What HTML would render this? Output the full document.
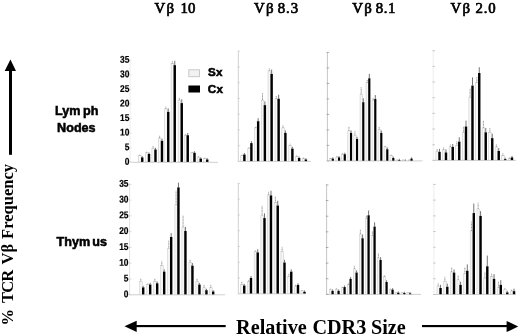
<!DOCTYPE html>
<html><head><meta charset="utf-8"><title>TCR Vb CDR3 size</title>
<style>
html,body{margin:0;padding:0;background:#fff;}
body{width:520px;height:336px;position:relative;overflow:hidden;font-family:"Liberation Sans",sans-serif;}
svg text{fill:#000;}
.tk{font-family:"Liberation Sans",sans-serif;font-weight:bold;font-size:9.8px;stroke:#000;stroke-width:0.2px;}
.lg{font-family:"Liberation Sans",sans-serif;font-weight:bold;font-size:11.6px;letter-spacing:0.5px;stroke:#000;stroke-width:0.55px;}
.rl{font-family:"Liberation Sans",sans-serif;font-weight:bold;font-size:12.6px;stroke:#000;stroke-width:0.55px;}
.tt{font-family:"Liberation Serif",serif;font-weight:normal;font-size:14.8px;stroke:#000;stroke-width:0.7px;}
.yl{font-family:"Liberation Serif",serif;font-weight:bold;font-size:16.5px;}
.xl{font-family:"Liberation Serif",serif;font-weight:bold;font-size:20.2px;}
</style></head><body>
<svg width="520" height="336" viewBox="0 0 520 336" style="position:absolute;left:0;top:0;will-change:transform">
<line x1="130" y1="60.00" x2="130" y2="162.3" stroke="#ececec" stroke-width="1.0"/>
<line x1="130" y1="162.3" x2="218" y2="162.3" stroke="#cacaca" stroke-width="0.9"/>
<line x1="129.2" y1="162.30" x2="131.8" y2="162.30" stroke="#e4e4e4" stroke-width="0.8"/>
<text transform="translate(129.4,164.75) rotate(0.08) scale(0.86,1)" text-anchor="end" class="tk">0</text>
<line x1="129.2" y1="147.73" x2="131.8" y2="147.73" stroke="#e4e4e4" stroke-width="0.8"/>
<text transform="translate(129.4,150.18) rotate(0.08) scale(0.86,1)" text-anchor="end" class="tk">5</text>
<line x1="129.2" y1="133.16" x2="131.8" y2="133.16" stroke="#e4e4e4" stroke-width="0.8"/>
<text transform="translate(129.4,135.61) rotate(0.08) scale(0.86,1)" text-anchor="end" class="tk">10</text>
<line x1="129.2" y1="118.59" x2="131.8" y2="118.59" stroke="#e4e4e4" stroke-width="0.8"/>
<text transform="translate(129.4,121.04) rotate(0.08) scale(0.86,1)" text-anchor="end" class="tk">15</text>
<line x1="129.2" y1="104.01" x2="131.8" y2="104.01" stroke="#e4e4e4" stroke-width="0.8"/>
<text transform="translate(129.4,106.46) rotate(0.08) scale(0.86,1)" text-anchor="end" class="tk">20</text>
<line x1="129.2" y1="89.44" x2="131.8" y2="89.44" stroke="#e4e4e4" stroke-width="0.8"/>
<text transform="translate(129.4,91.89) rotate(0.08) scale(0.86,1)" text-anchor="end" class="tk">25</text>
<line x1="129.2" y1="74.87" x2="131.8" y2="74.87" stroke="#e4e4e4" stroke-width="0.8"/>
<text transform="translate(129.4,77.32) rotate(0.08) scale(0.86,1)" text-anchor="end" class="tk">30</text>
<line x1="129.2" y1="60.30" x2="131.8" y2="60.30" stroke="#e4e4e4" stroke-width="0.8"/>
<text transform="translate(129.4,62.75) rotate(0.08) scale(0.86,1)" text-anchor="end" class="tk">35</text>
<rect x="138.65" y="155.66" width="2.60" height="6.24" fill="#f8f8f8" stroke="#cbcbcb" stroke-width="0.6"/>
<line x1="139.85" y1="155.66" x2="139.85" y2="154.20" stroke="#777" stroke-width="0.8" stroke-dasharray="1,0.5"/>
<rect x="141.05" y="157.41" width="2.40" height="4.49" fill="#000"/>
<line x1="142.25" y1="157.41" x2="142.25" y2="156.06" stroke="#3a3a3a" stroke-width="0.7"/>
<rect x="145.40" y="152.74" width="2.60" height="9.16" fill="#f8f8f8" stroke="#cbcbcb" stroke-width="0.6"/>
<line x1="146.60" y1="152.74" x2="146.60" y2="151.57" stroke="#777" stroke-width="0.8" stroke-dasharray="1,0.5"/>
<rect x="147.80" y="153.91" width="2.40" height="7.99" fill="#000"/>
<line x1="149.00" y1="153.91" x2="149.00" y2="152.40" stroke="#3a3a3a" stroke-width="0.7"/>
<rect x="151.90" y="148.36" width="2.60" height="13.54" fill="#f8f8f8" stroke="#cbcbcb" stroke-width="0.6"/>
<line x1="153.10" y1="148.36" x2="153.10" y2="146.02" stroke="#777" stroke-width="0.8" stroke-dasharray="1,0.5"/>
<rect x="154.30" y="149.53" width="2.40" height="12.37" fill="#000"/>
<line x1="155.50" y1="149.53" x2="155.50" y2="147.82" stroke="#3a3a3a" stroke-width="0.7"/>
<rect x="158.40" y="138.14" width="2.60" height="23.76" fill="#f8f8f8" stroke="#cbcbcb" stroke-width="0.6"/>
<line x1="159.60" y1="138.14" x2="159.60" y2="135.80" stroke="#777" stroke-width="0.8" stroke-dasharray="1,0.5"/>
<rect x="160.80" y="140.77" width="2.40" height="21.13" fill="#000"/>
<line x1="162.00" y1="140.77" x2="162.00" y2="138.67" stroke="#3a3a3a" stroke-width="0.7"/>
<rect x="164.65" y="108.94" width="2.60" height="52.96" fill="#f8f8f8" stroke="#cbcbcb" stroke-width="0.6"/>
<line x1="165.85" y1="108.94" x2="165.85" y2="106.60" stroke="#777" stroke-width="0.8" stroke-dasharray="1,0.5"/>
<rect x="167.05" y="111.86" width="2.40" height="50.04" fill="#000"/>
<line x1="168.25" y1="111.86" x2="168.25" y2="108.46" stroke="#3a3a3a" stroke-width="0.7"/>
<rect x="171.15" y="63.68" width="2.60" height="98.22" fill="#f8f8f8" stroke="#cbcbcb" stroke-width="0.6"/>
<line x1="172.35" y1="63.68" x2="172.35" y2="61.34" stroke="#777" stroke-width="0.8" stroke-dasharray="1,0.5"/>
<rect x="173.55" y="65.14" width="2.40" height="96.76" fill="#000"/>
<line x1="174.75" y1="65.14" x2="174.75" y2="60.76" stroke="#3a3a3a" stroke-width="0.7"/>
<rect x="178.15" y="100.18" width="2.60" height="61.72" fill="#f8f8f8" stroke="#cbcbcb" stroke-width="0.6"/>
<line x1="179.35" y1="100.18" x2="179.35" y2="97.84" stroke="#777" stroke-width="0.8" stroke-dasharray="1,0.5"/>
<rect x="180.55" y="103.10" width="2.40" height="58.80" fill="#000"/>
<line x1="181.75" y1="103.10" x2="181.75" y2="99.30" stroke="#3a3a3a" stroke-width="0.7"/>
<rect x="184.15" y="135.22" width="2.60" height="26.68" fill="#f8f8f8" stroke="#cbcbcb" stroke-width="0.6"/>
<line x1="185.35" y1="135.22" x2="185.35" y2="134.34" stroke="#777" stroke-width="0.8" stroke-dasharray="1,0.5"/>
<rect x="186.55" y="135.22" width="2.40" height="26.68" fill="#000"/>
<line x1="187.75" y1="135.22" x2="187.75" y2="132.87" stroke="#3a3a3a" stroke-width="0.7"/>
<rect x="190.90" y="152.74" width="2.60" height="9.16" fill="#f8f8f8" stroke="#cbcbcb" stroke-width="0.6"/>
<line x1="192.10" y1="152.74" x2="192.10" y2="151.86" stroke="#777" stroke-width="0.8" stroke-dasharray="1,0.5"/>
<rect x="193.30" y="152.74" width="2.40" height="9.16" fill="#000"/>
<line x1="194.50" y1="152.74" x2="194.50" y2="151.18" stroke="#3a3a3a" stroke-width="0.7"/>
<rect x="197.15" y="157.12" width="2.60" height="4.78" fill="#f8f8f8" stroke="#cbcbcb" stroke-width="0.6"/>
<line x1="198.35" y1="157.12" x2="198.35" y2="156.24" stroke="#777" stroke-width="0.8" stroke-dasharray="1,0.5"/>
<rect x="199.55" y="158.58" width="2.40" height="3.32" fill="#000"/>
<line x1="200.75" y1="158.58" x2="200.75" y2="157.28" stroke="#3a3a3a" stroke-width="0.7"/>
<rect x="203.65" y="158.58" width="2.60" height="3.32" fill="#f8f8f8" stroke="#cbcbcb" stroke-width="0.6"/>
<line x1="204.85" y1="158.58" x2="204.85" y2="157.70" stroke="#777" stroke-width="0.8" stroke-dasharray="1,0.5"/>
<rect x="206.05" y="159.46" width="2.40" height="2.44" fill="#000"/>
<line x1="207.25" y1="159.46" x2="207.25" y2="158.20" stroke="#3a3a3a" stroke-width="0.7"/>
<line x1="238.4" y1="50.90" x2="238.4" y2="161.4" stroke="#d9d9d9" stroke-width="1.2"/>
<line x1="238.4" y1="161.4" x2="311" y2="161.4" stroke="#cacaca" stroke-width="0.9"/>
<line x1="237.6" y1="161.40" x2="240.20000000000002" y2="161.40" stroke="#cfcfcf" stroke-width="0.8"/>
<line x1="237.6" y1="145.66" x2="240.20000000000002" y2="145.66" stroke="#cfcfcf" stroke-width="0.8"/>
<line x1="237.6" y1="129.91" x2="240.20000000000002" y2="129.91" stroke="#cfcfcf" stroke-width="0.8"/>
<line x1="237.6" y1="114.17" x2="240.20000000000002" y2="114.17" stroke="#cfcfcf" stroke-width="0.8"/>
<line x1="237.6" y1="98.43" x2="240.20000000000002" y2="98.43" stroke="#cfcfcf" stroke-width="0.8"/>
<line x1="237.6" y1="82.69" x2="240.20000000000002" y2="82.69" stroke="#cfcfcf" stroke-width="0.8"/>
<line x1="237.6" y1="66.94" x2="240.20000000000002" y2="66.94" stroke="#cfcfcf" stroke-width="0.8"/>
<line x1="237.6" y1="51.20" x2="240.20000000000002" y2="51.20" stroke="#cfcfcf" stroke-width="0.8"/>
<rect x="240.80" y="155.66" width="2.60" height="5.44" fill="#f8f8f8" stroke="#cbcbcb" stroke-width="0.6"/>
<line x1="242.00" y1="155.66" x2="242.00" y2="154.78" stroke="#777" stroke-width="0.8" stroke-dasharray="1,0.5"/>
<rect x="243.20" y="154.49" width="2.40" height="6.61" fill="#000"/>
<line x1="244.40" y1="154.49" x2="244.40" y2="153.01" stroke="#3a3a3a" stroke-width="0.7"/>
<rect x="247.80" y="148.36" width="2.60" height="12.74" fill="#f8f8f8" stroke="#cbcbcb" stroke-width="0.6"/>
<line x1="249.00" y1="148.36" x2="249.00" y2="146.90" stroke="#777" stroke-width="0.8" stroke-dasharray="1,0.5"/>
<rect x="250.20" y="143.10" width="2.40" height="18.00" fill="#000"/>
<line x1="251.40" y1="143.10" x2="251.40" y2="141.11" stroke="#3a3a3a" stroke-width="0.7"/>
<rect x="254.55" y="127.92" width="2.60" height="33.18" fill="#f8f8f8" stroke="#cbcbcb" stroke-width="0.6"/>
<line x1="255.75" y1="127.92" x2="255.75" y2="126.46" stroke="#777" stroke-width="0.8" stroke-dasharray="1,0.5"/>
<rect x="256.95" y="121.20" width="2.40" height="39.90" fill="#000"/>
<line x1="258.15" y1="121.20" x2="258.15" y2="118.22" stroke="#3a3a3a" stroke-width="0.7"/>
<rect x="261.30" y="100.18" width="2.60" height="60.92" fill="#f8f8f8" stroke="#cbcbcb" stroke-width="0.6"/>
<line x1="262.50" y1="100.18" x2="262.50" y2="92.88" stroke="#777" stroke-width="0.8" stroke-dasharray="1,0.5"/>
<rect x="263.70" y="105.14" width="2.40" height="55.96" fill="#000"/>
<line x1="264.90" y1="105.14" x2="264.90" y2="101.44" stroke="#3a3a3a" stroke-width="0.7"/>
<rect x="268.05" y="70.98" width="2.60" height="90.12" fill="#f8f8f8" stroke="#cbcbcb" stroke-width="0.6"/>
<line x1="269.25" y1="70.98" x2="269.25" y2="68.06" stroke="#777" stroke-width="0.8" stroke-dasharray="1,0.5"/>
<rect x="270.45" y="73.90" width="2.40" height="87.20" fill="#000"/>
<line x1="271.65" y1="73.90" x2="271.65" y2="69.52" stroke="#3a3a3a" stroke-width="0.7"/>
<rect x="275.05" y="98.72" width="2.60" height="62.38" fill="#f8f8f8" stroke="#cbcbcb" stroke-width="0.6"/>
<line x1="276.25" y1="98.72" x2="276.25" y2="95.80" stroke="#777" stroke-width="0.8" stroke-dasharray="1,0.5"/>
<rect x="277.45" y="98.72" width="2.40" height="62.38" fill="#000"/>
<line x1="278.65" y1="98.72" x2="278.65" y2="94.73" stroke="#3a3a3a" stroke-width="0.7"/>
<rect x="281.80" y="127.92" width="2.60" height="33.18" fill="#f8f8f8" stroke="#cbcbcb" stroke-width="0.6"/>
<line x1="283.00" y1="127.92" x2="283.00" y2="125.00" stroke="#777" stroke-width="0.8" stroke-dasharray="1,0.5"/>
<rect x="284.20" y="132.88" width="2.40" height="28.22" fill="#000"/>
<line x1="285.40" y1="132.88" x2="285.40" y2="130.43" stroke="#3a3a3a" stroke-width="0.7"/>
<rect x="288.80" y="145.44" width="2.60" height="15.66" fill="#f8f8f8" stroke="#cbcbcb" stroke-width="0.6"/>
<line x1="290.00" y1="145.44" x2="290.00" y2="143.69" stroke="#777" stroke-width="0.8" stroke-dasharray="1,0.5"/>
<rect x="291.20" y="148.65" width="2.40" height="12.45" fill="#000"/>
<line x1="292.40" y1="148.65" x2="292.40" y2="146.91" stroke="#3a3a3a" stroke-width="0.7"/>
<rect x="295.55" y="156.54" width="2.60" height="4.56" fill="#f8f8f8" stroke="#cbcbcb" stroke-width="0.6"/>
<line x1="296.75" y1="156.54" x2="296.75" y2="155.37" stroke="#777" stroke-width="0.8" stroke-dasharray="1,0.5"/>
<rect x="297.95" y="158.00" width="2.40" height="3.10" fill="#000"/>
<line x1="299.15" y1="158.00" x2="299.15" y2="156.67" stroke="#3a3a3a" stroke-width="0.7"/>
<rect x="302.30" y="158.58" width="2.60" height="2.52" fill="#f8f8f8" stroke="#cbcbcb" stroke-width="0.6"/>
<line x1="303.50" y1="158.58" x2="303.50" y2="157.70" stroke="#777" stroke-width="0.8" stroke-dasharray="1,0.5"/>
<rect x="304.70" y="159.46" width="2.40" height="1.64" fill="#000"/>
<line x1="305.90" y1="159.46" x2="305.90" y2="158.20" stroke="#3a3a3a" stroke-width="0.7"/>
<line x1="327.4" y1="52.10" x2="327.4" y2="160.9" stroke="#adadad" stroke-width="0.7"/>
<line x1="327.4" y1="160.9" x2="422.5" y2="160.9" stroke="#cacaca" stroke-width="0.9"/>
<line x1="326.59999999999997" y1="160.90" x2="329.2" y2="160.90" stroke="#999" stroke-width="0.8"/>
<line x1="326.59999999999997" y1="145.40" x2="329.2" y2="145.40" stroke="#999" stroke-width="0.8"/>
<line x1="326.59999999999997" y1="129.90" x2="329.2" y2="129.90" stroke="#999" stroke-width="0.8"/>
<line x1="326.59999999999997" y1="114.40" x2="329.2" y2="114.40" stroke="#999" stroke-width="0.8"/>
<line x1="326.59999999999997" y1="98.90" x2="329.2" y2="98.90" stroke="#999" stroke-width="0.8"/>
<line x1="326.59999999999997" y1="83.40" x2="329.2" y2="83.40" stroke="#999" stroke-width="0.8"/>
<line x1="326.59999999999997" y1="67.90" x2="329.2" y2="67.90" stroke="#999" stroke-width="0.8"/>
<line x1="326.59999999999997" y1="52.40" x2="329.2" y2="52.40" stroke="#999" stroke-width="0.8"/>
<rect x="329.58" y="158.58" width="2.35" height="2.12" fill="#f8f8f8" stroke="#cbcbcb" stroke-width="0.6"/>
<line x1="330.65" y1="158.58" x2="330.65" y2="158.00" stroke="#777" stroke-width="0.8" stroke-dasharray="1,0.5"/>
<rect x="331.73" y="158.58" width="2.15" height="2.12" fill="#000"/>
<line x1="332.80" y1="158.58" x2="332.80" y2="157.28" stroke="#3a3a3a" stroke-width="0.7"/>
<rect x="335.83" y="157.12" width="2.35" height="3.58" fill="#f8f8f8" stroke="#cbcbcb" stroke-width="0.6"/>
<line x1="336.90" y1="157.12" x2="336.90" y2="156.24" stroke="#777" stroke-width="0.8" stroke-dasharray="1,0.5"/>
<rect x="337.98" y="157.41" width="2.15" height="3.29" fill="#000"/>
<line x1="339.05" y1="157.41" x2="339.05" y2="156.06" stroke="#3a3a3a" stroke-width="0.7"/>
<rect x="341.58" y="154.20" width="2.35" height="6.50" fill="#f8f8f8" stroke="#cbcbcb" stroke-width="0.6"/>
<line x1="342.65" y1="154.20" x2="342.65" y2="153.32" stroke="#777" stroke-width="0.8" stroke-dasharray="1,0.5"/>
<rect x="343.73" y="154.20" width="2.15" height="6.50" fill="#000"/>
<line x1="344.80" y1="154.20" x2="344.80" y2="152.70" stroke="#3a3a3a" stroke-width="0.7"/>
<rect x="347.83" y="130.84" width="2.35" height="29.86" fill="#f8f8f8" stroke="#cbcbcb" stroke-width="0.6"/>
<line x1="348.90" y1="130.84" x2="348.90" y2="126.46" stroke="#777" stroke-width="0.8" stroke-dasharray="1,0.5"/>
<rect x="349.98" y="132.88" width="2.15" height="27.82" fill="#000"/>
<line x1="351.05" y1="132.88" x2="351.05" y2="130.43" stroke="#3a3a3a" stroke-width="0.7"/>
<rect x="353.83" y="135.22" width="2.35" height="25.48" fill="#f8f8f8" stroke="#cbcbcb" stroke-width="0.6"/>
<line x1="354.90" y1="135.22" x2="354.90" y2="131.42" stroke="#777" stroke-width="0.8" stroke-dasharray="1,0.5"/>
<rect x="355.98" y="139.02" width="2.15" height="21.68" fill="#000"/>
<line x1="357.05" y1="139.02" x2="357.05" y2="136.84" stroke="#3a3a3a" stroke-width="0.7"/>
<rect x="360.08" y="94.34" width="2.35" height="66.36" fill="#f8f8f8" stroke="#cbcbcb" stroke-width="0.6"/>
<line x1="361.15" y1="94.34" x2="361.15" y2="87.04" stroke="#777" stroke-width="0.8" stroke-dasharray="1,0.5"/>
<rect x="362.23" y="102.22" width="2.15" height="58.48" fill="#000"/>
<line x1="363.30" y1="102.22" x2="363.30" y2="98.39" stroke="#3a3a3a" stroke-width="0.7"/>
<rect x="366.08" y="82.66" width="2.35" height="78.04" fill="#f8f8f8" stroke="#cbcbcb" stroke-width="0.6"/>
<line x1="367.15" y1="82.66" x2="367.15" y2="79.74" stroke="#777" stroke-width="0.8" stroke-dasharray="1,0.5"/>
<rect x="368.23" y="78.28" width="2.15" height="82.42" fill="#000"/>
<line x1="369.30" y1="78.28" x2="369.30" y2="73.90" stroke="#3a3a3a" stroke-width="0.7"/>
<rect x="372.08" y="100.18" width="2.35" height="60.52" fill="#f8f8f8" stroke="#cbcbcb" stroke-width="0.6"/>
<line x1="373.15" y1="100.18" x2="373.15" y2="97.84" stroke="#777" stroke-width="0.8" stroke-dasharray="1,0.5"/>
<rect x="374.23" y="99.01" width="2.15" height="61.69" fill="#000"/>
<line x1="375.30" y1="99.01" x2="375.30" y2="95.03" stroke="#3a3a3a" stroke-width="0.7"/>
<rect x="378.08" y="129.38" width="2.35" height="31.32" fill="#f8f8f8" stroke="#cbcbcb" stroke-width="0.6"/>
<line x1="379.15" y1="129.38" x2="379.15" y2="127.04" stroke="#777" stroke-width="0.8" stroke-dasharray="1,0.5"/>
<rect x="380.23" y="132.88" width="2.15" height="27.82" fill="#000"/>
<line x1="381.30" y1="132.88" x2="381.30" y2="130.43" stroke="#3a3a3a" stroke-width="0.7"/>
<rect x="384.08" y="146.90" width="2.35" height="13.80" fill="#f8f8f8" stroke="#cbcbcb" stroke-width="0.6"/>
<line x1="385.15" y1="146.90" x2="385.15" y2="145.73" stroke="#777" stroke-width="0.8" stroke-dasharray="1,0.5"/>
<rect x="386.23" y="149.24" width="2.15" height="11.46" fill="#000"/>
<line x1="387.30" y1="149.24" x2="387.30" y2="147.52" stroke="#3a3a3a" stroke-width="0.7"/>
<rect x="390.08" y="155.66" width="2.35" height="5.04" fill="#f8f8f8" stroke="#cbcbcb" stroke-width="0.6"/>
<line x1="391.15" y1="155.66" x2="391.15" y2="154.78" stroke="#777" stroke-width="0.8" stroke-dasharray="1,0.5"/>
<rect x="392.23" y="158.00" width="2.15" height="2.70" fill="#000"/>
<line x1="393.30" y1="158.00" x2="393.30" y2="156.67" stroke="#3a3a3a" stroke-width="0.7"/>
<rect x="396.08" y="160.04" width="2.35" height="0.66" fill="#f8f8f8" stroke="#cbcbcb" stroke-width="0.6"/>
<line x1="397.15" y1="160.04" x2="397.15" y2="159.75" stroke="#777" stroke-width="0.8" stroke-dasharray="1,0.5"/>
<rect x="398.23" y="160.04" width="2.15" height="0.66" fill="#000"/>
<line x1="399.30" y1="160.04" x2="399.30" y2="158.81" stroke="#3a3a3a" stroke-width="0.7"/>
<rect x="402.08" y="160.04" width="2.35" height="0.66" fill="#f8f8f8" stroke="#cbcbcb" stroke-width="0.6"/>
<line x1="403.15" y1="160.04" x2="403.15" y2="159.75" stroke="#777" stroke-width="0.8" stroke-dasharray="1,0.5"/>
<rect x="404.23" y="160.62" width="2.15" height="0.08" fill="#000"/>
<line x1="405.30" y1="160.62" x2="405.30" y2="159.42" stroke="#3a3a3a" stroke-width="0.7"/>
<rect x="408.33" y="160.04" width="2.35" height="0.66" fill="#f8f8f8" stroke="#cbcbcb" stroke-width="0.6"/>
<line x1="409.40" y1="160.04" x2="409.40" y2="159.75" stroke="#777" stroke-width="0.8" stroke-dasharray="1,0.5"/>
<rect x="410.48" y="158.58" width="2.15" height="2.12" fill="#000"/>
<line x1="411.55" y1="158.58" x2="411.55" y2="157.28" stroke="#3a3a3a" stroke-width="0.7"/>
<line x1="433.2" y1="50.40" x2="433.2" y2="160.4" stroke="#ededed" stroke-width="1.0"/>
<line x1="433.2" y1="160.4" x2="516" y2="160.4" stroke="#cacaca" stroke-width="0.9"/>
<line x1="432.4" y1="160.40" x2="435.0" y2="160.40" stroke="#bdbdbd" stroke-width="0.8"/>
<line x1="432.4" y1="144.73" x2="435.0" y2="144.73" stroke="#bdbdbd" stroke-width="0.8"/>
<line x1="432.4" y1="129.06" x2="435.0" y2="129.06" stroke="#bdbdbd" stroke-width="0.8"/>
<line x1="432.4" y1="113.39" x2="435.0" y2="113.39" stroke="#bdbdbd" stroke-width="0.8"/>
<line x1="432.4" y1="97.71" x2="435.0" y2="97.71" stroke="#bdbdbd" stroke-width="0.8"/>
<line x1="432.4" y1="82.04" x2="435.0" y2="82.04" stroke="#bdbdbd" stroke-width="0.8"/>
<line x1="432.4" y1="66.37" x2="435.0" y2="66.37" stroke="#bdbdbd" stroke-width="0.8"/>
<line x1="432.4" y1="50.70" x2="435.0" y2="50.70" stroke="#bdbdbd" stroke-width="0.8"/>
<rect x="435.90" y="151.28" width="2.60" height="8.82" fill="#f8f8f8" stroke="#cbcbcb" stroke-width="0.6"/>
<line x1="437.10" y1="151.28" x2="437.10" y2="148.94" stroke="#777" stroke-width="0.8" stroke-dasharray="1,0.5"/>
<rect x="438.30" y="151.86" width="2.40" height="8.24" fill="#000"/>
<line x1="439.50" y1="151.86" x2="439.50" y2="148.94" stroke="#3a3a3a" stroke-width="0.7"/>
<rect x="442.40" y="149.82" width="2.60" height="10.28" fill="#f8f8f8" stroke="#cbcbcb" stroke-width="0.6"/>
<line x1="443.60" y1="149.82" x2="443.60" y2="147.48" stroke="#777" stroke-width="0.8" stroke-dasharray="1,0.5"/>
<rect x="444.80" y="152.45" width="2.40" height="7.65" fill="#000"/>
<line x1="446.00" y1="152.45" x2="446.00" y2="149.53" stroke="#3a3a3a" stroke-width="0.7"/>
<rect x="449.15" y="146.90" width="2.60" height="13.20" fill="#f8f8f8" stroke="#cbcbcb" stroke-width="0.6"/>
<line x1="450.35" y1="146.90" x2="450.35" y2="144.56" stroke="#777" stroke-width="0.8" stroke-dasharray="1,0.5"/>
<rect x="451.55" y="146.90" width="2.40" height="13.20" fill="#000"/>
<line x1="452.75" y1="146.90" x2="452.75" y2="143.98" stroke="#3a3a3a" stroke-width="0.7"/>
<rect x="455.65" y="145.44" width="2.60" height="14.66" fill="#f8f8f8" stroke="#cbcbcb" stroke-width="0.6"/>
<line x1="456.85" y1="145.44" x2="456.85" y2="141.06" stroke="#777" stroke-width="0.8" stroke-dasharray="1,0.5"/>
<rect x="458.05" y="141.64" width="2.40" height="18.46" fill="#000"/>
<line x1="459.25" y1="141.64" x2="459.25" y2="137.26" stroke="#3a3a3a" stroke-width="0.7"/>
<rect x="462.40" y="132.30" width="2.60" height="27.80" fill="#f8f8f8" stroke="#cbcbcb" stroke-width="0.6"/>
<line x1="463.60" y1="132.30" x2="463.60" y2="126.46" stroke="#777" stroke-width="0.8" stroke-dasharray="1,0.5"/>
<rect x="464.80" y="126.46" width="2.40" height="33.64" fill="#000"/>
<line x1="466.00" y1="126.46" x2="466.00" y2="120.62" stroke="#3a3a3a" stroke-width="0.7"/>
<rect x="468.90" y="97.26" width="2.60" height="62.84" fill="#f8f8f8" stroke="#cbcbcb" stroke-width="0.6"/>
<line x1="470.10" y1="97.26" x2="470.10" y2="88.50" stroke="#777" stroke-width="0.8" stroke-dasharray="1,0.5"/>
<rect x="471.30" y="85.58" width="2.40" height="74.52" fill="#000"/>
<line x1="472.50" y1="85.58" x2="472.50" y2="77.40" stroke="#3a3a3a" stroke-width="0.7"/>
<rect x="475.65" y="82.66" width="2.60" height="77.44" fill="#f8f8f8" stroke="#cbcbcb" stroke-width="0.6"/>
<line x1="476.85" y1="82.66" x2="476.85" y2="76.82" stroke="#777" stroke-width="0.8" stroke-dasharray="1,0.5"/>
<rect x="478.05" y="73.02" width="2.40" height="87.08" fill="#000"/>
<line x1="479.25" y1="73.02" x2="479.25" y2="67.18" stroke="#3a3a3a" stroke-width="0.7"/>
<rect x="482.15" y="127.92" width="2.60" height="32.18" fill="#f8f8f8" stroke="#cbcbcb" stroke-width="0.6"/>
<line x1="483.35" y1="127.92" x2="483.35" y2="120.62" stroke="#777" stroke-width="0.8" stroke-dasharray="1,0.5"/>
<rect x="484.55" y="132.30" width="2.40" height="27.80" fill="#000"/>
<line x1="485.75" y1="132.30" x2="485.75" y2="127.92" stroke="#3a3a3a" stroke-width="0.7"/>
<rect x="488.65" y="132.30" width="2.60" height="27.80" fill="#f8f8f8" stroke="#cbcbcb" stroke-width="0.6"/>
<line x1="489.85" y1="132.30" x2="489.85" y2="127.92" stroke="#777" stroke-width="0.8" stroke-dasharray="1,0.5"/>
<rect x="491.05" y="138.14" width="2.40" height="21.96" fill="#000"/>
<line x1="492.25" y1="138.14" x2="492.25" y2="133.76" stroke="#3a3a3a" stroke-width="0.7"/>
<rect x="495.15" y="146.90" width="2.60" height="13.20" fill="#f8f8f8" stroke="#cbcbcb" stroke-width="0.6"/>
<line x1="496.35" y1="146.90" x2="496.35" y2="143.98" stroke="#777" stroke-width="0.8" stroke-dasharray="1,0.5"/>
<rect x="497.55" y="150.99" width="2.40" height="9.11" fill="#000"/>
<line x1="498.75" y1="150.99" x2="498.75" y2="148.07" stroke="#3a3a3a" stroke-width="0.7"/>
<rect x="501.65" y="155.66" width="2.60" height="4.44" fill="#f8f8f8" stroke="#cbcbcb" stroke-width="0.6"/>
<line x1="502.85" y1="155.66" x2="502.85" y2="153.32" stroke="#777" stroke-width="0.8" stroke-dasharray="1,0.5"/>
<rect x="504.05" y="159.16" width="2.40" height="0.94" fill="#000"/>
<line x1="505.25" y1="159.16" x2="505.25" y2="157.70" stroke="#3a3a3a" stroke-width="0.7"/>
<rect x="508.40" y="158.58" width="2.60" height="1.52" fill="#f8f8f8" stroke="#cbcbcb" stroke-width="0.6"/>
<line x1="509.60" y1="158.58" x2="509.60" y2="157.12" stroke="#777" stroke-width="0.8" stroke-dasharray="1,0.5"/>
<rect x="510.80" y="157.41" width="2.40" height="2.69" fill="#000"/>
<line x1="512.00" y1="157.41" x2="512.00" y2="155.95" stroke="#3a3a3a" stroke-width="0.7"/>
<line x1="129.6" y1="184.00" x2="129.6" y2="294.8" stroke="#dedede" stroke-width="0.9"/>
<line x1="129.6" y1="294.8" x2="225" y2="294.8" stroke="#cacaca" stroke-width="0.9"/>
<line x1="128.79999999999998" y1="294.80" x2="131.4" y2="294.80" stroke="#d0d0d0" stroke-width="0.8"/>
<text transform="translate(128.5,297.25) rotate(0.08) scale(0.86,1)" text-anchor="end" class="tk">0</text>
<line x1="128.79999999999998" y1="279.01" x2="131.4" y2="279.01" stroke="#d0d0d0" stroke-width="0.8"/>
<text transform="translate(128.5,281.46) rotate(0.08) scale(0.86,1)" text-anchor="end" class="tk">5</text>
<line x1="128.79999999999998" y1="263.23" x2="131.4" y2="263.23" stroke="#d0d0d0" stroke-width="0.8"/>
<text transform="translate(128.5,265.68) rotate(0.08) scale(0.86,1)" text-anchor="end" class="tk">10</text>
<line x1="128.79999999999998" y1="247.44" x2="131.4" y2="247.44" stroke="#d0d0d0" stroke-width="0.8"/>
<text transform="translate(128.5,249.89) rotate(0.08) scale(0.86,1)" text-anchor="end" class="tk">15</text>
<line x1="128.79999999999998" y1="231.66" x2="131.4" y2="231.66" stroke="#d0d0d0" stroke-width="0.8"/>
<text transform="translate(128.5,234.11) rotate(0.08) scale(0.86,1)" text-anchor="end" class="tk">20</text>
<line x1="128.79999999999998" y1="215.87" x2="131.4" y2="215.87" stroke="#d0d0d0" stroke-width="0.8"/>
<text transform="translate(128.5,218.32) rotate(0.08) scale(0.86,1)" text-anchor="end" class="tk">25</text>
<line x1="128.79999999999998" y1="200.09" x2="131.4" y2="200.09" stroke="#d0d0d0" stroke-width="0.8"/>
<text transform="translate(128.5,202.54) rotate(0.08) scale(0.86,1)" text-anchor="end" class="tk">30</text>
<line x1="128.79999999999998" y1="184.30" x2="131.4" y2="184.30" stroke="#d0d0d0" stroke-width="0.8"/>
<text transform="translate(128.5,186.75) rotate(0.08) scale(0.86,1)" text-anchor="end" class="tk">35</text>
<rect x="139.60" y="281.40" width="2.60" height="13.00" fill="#f4f4f4" stroke="#d0d0d0" stroke-width="0.6"/>
<line x1="140.80" y1="281.40" x2="140.80" y2="278.25" stroke="#777" stroke-width="0.8" stroke-dasharray="1,0.5"/>
<rect x="142.00" y="287.38" width="2.40" height="7.01" fill="#000"/>
<line x1="143.20" y1="287.38" x2="143.20" y2="285.83" stroke="#3a3a3a" stroke-width="0.7"/>
<rect x="146.60" y="284.55" width="2.60" height="9.85" fill="#f4f4f4" stroke="#d0d0d0" stroke-width="0.6"/>
<line x1="147.80" y1="284.55" x2="147.80" y2="282.98" stroke="#777" stroke-width="0.8" stroke-dasharray="1,0.5"/>
<rect x="149.00" y="284.55" width="2.40" height="9.85" fill="#000"/>
<line x1="150.20" y1="284.55" x2="150.20" y2="282.86" stroke="#3a3a3a" stroke-width="0.7"/>
<rect x="153.60" y="281.40" width="2.60" height="13.00" fill="#f4f4f4" stroke="#d0d0d0" stroke-width="0.6"/>
<line x1="154.80" y1="281.40" x2="154.80" y2="278.88" stroke="#777" stroke-width="0.8" stroke-dasharray="1,0.5"/>
<rect x="156.00" y="283.29" width="2.40" height="11.11" fill="#000"/>
<line x1="157.20" y1="283.29" x2="157.20" y2="281.55" stroke="#3a3a3a" stroke-width="0.7"/>
<rect x="160.60" y="265.65" width="2.60" height="28.75" fill="#f4f4f4" stroke="#d0d0d0" stroke-width="0.6"/>
<line x1="161.80" y1="265.65" x2="161.80" y2="260.92" stroke="#777" stroke-width="0.8" stroke-dasharray="1,0.5"/>
<rect x="163.00" y="271.63" width="2.40" height="22.76" fill="#000"/>
<line x1="164.20" y1="271.63" x2="164.20" y2="269.37" stroke="#3a3a3a" stroke-width="0.7"/>
<rect x="167.60" y="248.32" width="2.60" height="46.07" fill="#f4f4f4" stroke="#d0d0d0" stroke-width="0.6"/>
<line x1="168.80" y1="248.32" x2="168.80" y2="240.45" stroke="#777" stroke-width="0.8" stroke-dasharray="1,0.5"/>
<rect x="170.00" y="236.99" width="2.40" height="57.41" fill="#000"/>
<line x1="171.20" y1="236.99" x2="171.20" y2="233.16" stroke="#3a3a3a" stroke-width="0.7"/>
<rect x="174.85" y="204.86" width="2.60" height="89.54" fill="#f4f4f4" stroke="#d0d0d0" stroke-width="0.6"/>
<line x1="176.05" y1="204.86" x2="176.05" y2="190.68" stroke="#777" stroke-width="0.8" stroke-dasharray="1,0.5"/>
<rect x="177.25" y="187.37" width="2.40" height="107.03" fill="#000"/>
<line x1="178.45" y1="187.37" x2="178.45" y2="182.65" stroke="#3a3a3a" stroke-width="0.7"/>
<rect x="181.85" y="227.22" width="2.60" height="67.18" fill="#f4f4f4" stroke="#d0d0d0" stroke-width="0.6"/>
<line x1="183.05" y1="227.22" x2="183.05" y2="215.56" stroke="#777" stroke-width="0.8" stroke-dasharray="1,0.5"/>
<rect x="184.25" y="231.00" width="2.40" height="63.40" fill="#000"/>
<line x1="185.45" y1="231.00" x2="185.45" y2="226.91" stroke="#3a3a3a" stroke-width="0.7"/>
<rect x="188.85" y="262.50" width="2.60" height="31.90" fill="#f4f4f4" stroke="#d0d0d0" stroke-width="0.6"/>
<line x1="190.05" y1="262.50" x2="190.05" y2="259.35" stroke="#777" stroke-width="0.8" stroke-dasharray="1,0.5"/>
<rect x="191.25" y="265.65" width="2.40" height="28.75" fill="#000"/>
<line x1="192.45" y1="265.65" x2="192.45" y2="263.11" stroke="#3a3a3a" stroke-width="0.7"/>
<rect x="195.85" y="281.40" width="2.60" height="13.00" fill="#f4f4f4" stroke="#d0d0d0" stroke-width="0.6"/>
<line x1="197.05" y1="281.40" x2="197.05" y2="278.25" stroke="#777" stroke-width="0.8" stroke-dasharray="1,0.5"/>
<rect x="198.25" y="284.55" width="2.40" height="9.85" fill="#000"/>
<line x1="199.45" y1="284.55" x2="199.45" y2="282.86" stroke="#3a3a3a" stroke-width="0.7"/>
<rect x="202.85" y="287.70" width="2.60" height="6.70" fill="#f4f4f4" stroke="#d0d0d0" stroke-width="0.6"/>
<line x1="204.05" y1="287.70" x2="204.05" y2="284.55" stroke="#777" stroke-width="0.8" stroke-dasharray="1,0.5"/>
<rect x="205.25" y="290.22" width="2.40" height="4.18" fill="#000"/>
<line x1="206.45" y1="290.22" x2="206.45" y2="288.79" stroke="#3a3a3a" stroke-width="0.7"/>
<rect x="209.60" y="287.70" width="2.60" height="6.70" fill="#f4f4f4" stroke="#d0d0d0" stroke-width="0.6"/>
<line x1="210.80" y1="287.70" x2="210.80" y2="284.55" stroke="#777" stroke-width="0.8" stroke-dasharray="1,0.5"/>
<rect x="212.00" y="291.48" width="2.40" height="2.92" fill="#000"/>
<line x1="213.20" y1="291.48" x2="213.20" y2="290.11" stroke="#3a3a3a" stroke-width="0.7"/>
<line x1="238.4" y1="183.10" x2="238.4" y2="293.8" stroke="#d9d9d9" stroke-width="1.2"/>
<line x1="238.4" y1="293.8" x2="306" y2="293.8" stroke="#cacaca" stroke-width="0.9"/>
<line x1="237.6" y1="293.80" x2="240.20000000000002" y2="293.80" stroke="#cfcfcf" stroke-width="0.8"/>
<line x1="237.6" y1="278.03" x2="240.20000000000002" y2="278.03" stroke="#cfcfcf" stroke-width="0.8"/>
<line x1="237.6" y1="262.26" x2="240.20000000000002" y2="262.26" stroke="#cfcfcf" stroke-width="0.8"/>
<line x1="237.6" y1="246.49" x2="240.20000000000002" y2="246.49" stroke="#cfcfcf" stroke-width="0.8"/>
<line x1="237.6" y1="230.71" x2="240.20000000000002" y2="230.71" stroke="#cfcfcf" stroke-width="0.8"/>
<line x1="237.6" y1="214.94" x2="240.20000000000002" y2="214.94" stroke="#cfcfcf" stroke-width="0.8"/>
<line x1="237.6" y1="199.17" x2="240.20000000000002" y2="199.17" stroke="#cfcfcf" stroke-width="0.8"/>
<line x1="237.6" y1="183.40" x2="240.20000000000002" y2="183.40" stroke="#cfcfcf" stroke-width="0.8"/>
<rect x="240.65" y="284.55" width="2.60" height="8.95" fill="#f4f4f4" stroke="#d0d0d0" stroke-width="0.6"/>
<line x1="241.85" y1="284.55" x2="241.85" y2="281.40" stroke="#777" stroke-width="0.8" stroke-dasharray="1,0.5"/>
<rect x="243.05" y="285.50" width="2.40" height="8.00" fill="#000"/>
<line x1="244.25" y1="285.50" x2="244.25" y2="283.85" stroke="#3a3a3a" stroke-width="0.7"/>
<rect x="247.40" y="281.40" width="2.60" height="12.10" fill="#f4f4f4" stroke="#d0d0d0" stroke-width="0.6"/>
<line x1="248.60" y1="281.40" x2="248.60" y2="279.82" stroke="#777" stroke-width="0.8" stroke-dasharray="1,0.5"/>
<rect x="249.80" y="277.94" width="2.40" height="15.56" fill="#000"/>
<line x1="251.00" y1="277.94" x2="251.00" y2="275.95" stroke="#3a3a3a" stroke-width="0.7"/>
<rect x="254.15" y="251.47" width="2.60" height="42.03" fill="#f4f4f4" stroke="#d0d0d0" stroke-width="0.6"/>
<line x1="255.35" y1="251.47" x2="255.35" y2="250.53" stroke="#777" stroke-width="0.8" stroke-dasharray="1,0.5"/>
<rect x="256.55" y="252.42" width="2.40" height="41.08" fill="#000"/>
<line x1="257.75" y1="252.42" x2="257.75" y2="249.29" stroke="#3a3a3a" stroke-width="0.7"/>
<rect x="260.90" y="215.25" width="2.60" height="78.25" fill="#f4f4f4" stroke="#d0d0d0" stroke-width="0.6"/>
<line x1="262.10" y1="215.25" x2="262.10" y2="205.80" stroke="#777" stroke-width="0.8" stroke-dasharray="1,0.5"/>
<rect x="263.30" y="218.08" width="2.40" height="75.42" fill="#000"/>
<line x1="264.50" y1="218.08" x2="264.50" y2="213.41" stroke="#3a3a3a" stroke-width="0.7"/>
<rect x="267.40" y="194.78" width="2.60" height="98.72" fill="#f4f4f4" stroke="#d0d0d0" stroke-width="0.6"/>
<line x1="268.60" y1="194.78" x2="268.60" y2="191.62" stroke="#777" stroke-width="0.8" stroke-dasharray="1,0.5"/>
<rect x="269.80" y="195.41" width="2.40" height="98.09" fill="#000"/>
<line x1="271.00" y1="195.41" x2="271.00" y2="190.68" stroke="#3a3a3a" stroke-width="0.7"/>
<rect x="274.15" y="202.65" width="2.60" height="90.85" fill="#f4f4f4" stroke="#d0d0d0" stroke-width="0.6"/>
<line x1="275.35" y1="202.65" x2="275.35" y2="196.35" stroke="#777" stroke-width="0.8" stroke-dasharray="1,0.5"/>
<rect x="276.55" y="205.49" width="2.40" height="88.01" fill="#000"/>
<line x1="277.75" y1="205.49" x2="277.75" y2="200.76" stroke="#3a3a3a" stroke-width="0.7"/>
<rect x="280.90" y="251.47" width="2.60" height="42.03" fill="#f4f4f4" stroke="#d0d0d0" stroke-width="0.6"/>
<line x1="282.10" y1="251.47" x2="282.10" y2="246.75" stroke="#777" stroke-width="0.8" stroke-dasharray="1,0.5"/>
<rect x="283.30" y="262.50" width="2.40" height="31.00" fill="#000"/>
<line x1="284.50" y1="262.50" x2="284.50" y2="259.82" stroke="#3a3a3a" stroke-width="0.7"/>
<rect x="287.65" y="276.68" width="2.60" height="16.82" fill="#f4f4f4" stroke="#d0d0d0" stroke-width="0.6"/>
<line x1="288.85" y1="276.68" x2="288.85" y2="273.53" stroke="#777" stroke-width="0.8" stroke-dasharray="1,0.5"/>
<rect x="290.05" y="271.63" width="2.40" height="21.87" fill="#000"/>
<line x1="291.25" y1="271.63" x2="291.25" y2="269.37" stroke="#3a3a3a" stroke-width="0.7"/>
<rect x="294.40" y="286.12" width="2.60" height="7.38" fill="#f4f4f4" stroke="#d0d0d0" stroke-width="0.6"/>
<line x1="295.60" y1="286.12" x2="295.60" y2="284.55" stroke="#777" stroke-width="0.8" stroke-dasharray="1,0.5"/>
<rect x="296.80" y="284.87" width="2.40" height="8.63" fill="#000"/>
<line x1="298.00" y1="284.87" x2="298.00" y2="283.19" stroke="#3a3a3a" stroke-width="0.7"/>
<rect x="300.90" y="290.85" width="2.60" height="2.65" fill="#f4f4f4" stroke="#d0d0d0" stroke-width="0.6"/>
<line x1="302.10" y1="290.85" x2="302.10" y2="289.91" stroke="#777" stroke-width="0.8" stroke-dasharray="1,0.5"/>
<rect x="303.30" y="291.80" width="2.40" height="1.70" fill="#000"/>
<line x1="304.50" y1="291.80" x2="304.50" y2="290.44" stroke="#3a3a3a" stroke-width="0.7"/>
<line x1="326.6" y1="184.60" x2="326.6" y2="294.4" stroke="#adadad" stroke-width="0.7"/>
<line x1="326.6" y1="294.4" x2="421" y2="294.4" stroke="#cacaca" stroke-width="0.9"/>
<line x1="325.8" y1="294.40" x2="328.40000000000003" y2="294.40" stroke="#999" stroke-width="0.8"/>
<line x1="325.8" y1="278.76" x2="328.40000000000003" y2="278.76" stroke="#999" stroke-width="0.8"/>
<line x1="325.8" y1="263.11" x2="328.40000000000003" y2="263.11" stroke="#999" stroke-width="0.8"/>
<line x1="325.8" y1="247.47" x2="328.40000000000003" y2="247.47" stroke="#999" stroke-width="0.8"/>
<line x1="325.8" y1="231.83" x2="328.40000000000003" y2="231.83" stroke="#999" stroke-width="0.8"/>
<line x1="325.8" y1="216.19" x2="328.40000000000003" y2="216.19" stroke="#999" stroke-width="0.8"/>
<line x1="325.8" y1="200.54" x2="328.40000000000003" y2="200.54" stroke="#999" stroke-width="0.8"/>
<line x1="325.8" y1="184.90" x2="328.40000000000003" y2="184.90" stroke="#999" stroke-width="0.8"/>
<rect x="329.30" y="289.27" width="2.40" height="4.93" fill="#f4f4f4" stroke="#d0d0d0" stroke-width="0.6"/>
<line x1="330.40" y1="289.27" x2="330.40" y2="288.64" stroke="#777" stroke-width="0.8" stroke-dasharray="1,0.5"/>
<rect x="331.50" y="290.85" width="2.20" height="3.35" fill="#000"/>
<line x1="332.60" y1="290.85" x2="332.60" y2="289.45" stroke="#3a3a3a" stroke-width="0.7"/>
<rect x="335.30" y="289.27" width="2.40" height="4.93" fill="#f4f4f4" stroke="#d0d0d0" stroke-width="0.6"/>
<line x1="336.40" y1="289.27" x2="336.40" y2="288.33" stroke="#777" stroke-width="0.8" stroke-dasharray="1,0.5"/>
<rect x="337.50" y="290.85" width="2.20" height="3.35" fill="#000"/>
<line x1="338.60" y1="290.85" x2="338.60" y2="289.45" stroke="#3a3a3a" stroke-width="0.7"/>
<rect x="341.30" y="287.70" width="2.40" height="6.50" fill="#f4f4f4" stroke="#d0d0d0" stroke-width="0.6"/>
<line x1="342.40" y1="287.70" x2="342.40" y2="286.75" stroke="#777" stroke-width="0.8" stroke-dasharray="1,0.5"/>
<rect x="343.50" y="287.07" width="2.20" height="7.13" fill="#000"/>
<line x1="344.60" y1="287.07" x2="344.60" y2="285.50" stroke="#3a3a3a" stroke-width="0.7"/>
<rect x="347.30" y="284.55" width="2.40" height="9.65" fill="#f4f4f4" stroke="#d0d0d0" stroke-width="0.6"/>
<line x1="348.40" y1="284.55" x2="348.40" y2="282.98" stroke="#777" stroke-width="0.8" stroke-dasharray="1,0.5"/>
<rect x="349.50" y="278.88" width="2.20" height="15.32" fill="#000"/>
<line x1="350.60" y1="278.88" x2="350.60" y2="276.94" stroke="#3a3a3a" stroke-width="0.7"/>
<rect x="353.30" y="268.80" width="2.40" height="25.40" fill="#f4f4f4" stroke="#d0d0d0" stroke-width="0.6"/>
<line x1="354.40" y1="268.80" x2="354.40" y2="265.65" stroke="#777" stroke-width="0.8" stroke-dasharray="1,0.5"/>
<rect x="355.50" y="272.58" width="2.20" height="21.62" fill="#000"/>
<line x1="356.60" y1="272.58" x2="356.60" y2="270.36" stroke="#3a3a3a" stroke-width="0.7"/>
<rect x="359.30" y="234.15" width="2.40" height="60.05" fill="#f4f4f4" stroke="#d0d0d0" stroke-width="0.6"/>
<line x1="360.40" y1="234.15" x2="360.40" y2="229.43" stroke="#777" stroke-width="0.8" stroke-dasharray="1,0.5"/>
<rect x="361.50" y="238.25" width="2.20" height="55.95" fill="#000"/>
<line x1="362.60" y1="238.25" x2="362.60" y2="234.48" stroke="#3a3a3a" stroke-width="0.7"/>
<rect x="365.30" y="218.40" width="2.40" height="75.80" fill="#f4f4f4" stroke="#d0d0d0" stroke-width="0.6"/>
<line x1="366.40" y1="218.40" x2="366.40" y2="215.25" stroke="#777" stroke-width="0.8" stroke-dasharray="1,0.5"/>
<rect x="367.50" y="215.25" width="2.20" height="78.95" fill="#000"/>
<line x1="368.60" y1="215.25" x2="368.60" y2="210.53" stroke="#3a3a3a" stroke-width="0.7"/>
<rect x="371.30" y="235.72" width="2.40" height="58.47" fill="#f4f4f4" stroke="#d0d0d0" stroke-width="0.6"/>
<line x1="372.40" y1="235.72" x2="372.40" y2="231.00" stroke="#777" stroke-width="0.8" stroke-dasharray="1,0.5"/>
<rect x="373.50" y="226.59" width="2.20" height="67.61" fill="#000"/>
<line x1="374.60" y1="226.59" x2="374.60" y2="222.30" stroke="#3a3a3a" stroke-width="0.7"/>
<rect x="377.30" y="257.77" width="2.40" height="36.43" fill="#f4f4f4" stroke="#d0d0d0" stroke-width="0.6"/>
<line x1="378.40" y1="257.77" x2="378.40" y2="253.05" stroke="#777" stroke-width="0.8" stroke-dasharray="1,0.5"/>
<rect x="379.50" y="259.98" width="2.20" height="34.22" fill="#000"/>
<line x1="380.60" y1="259.98" x2="380.60" y2="257.19" stroke="#3a3a3a" stroke-width="0.7"/>
<rect x="383.30" y="276.68" width="2.40" height="17.52" fill="#f4f4f4" stroke="#d0d0d0" stroke-width="0.6"/>
<line x1="384.40" y1="276.68" x2="384.40" y2="275.10" stroke="#777" stroke-width="0.8" stroke-dasharray="1,0.5"/>
<rect x="385.50" y="282.03" width="2.20" height="12.17" fill="#000"/>
<line x1="386.60" y1="282.03" x2="386.60" y2="280.23" stroke="#3a3a3a" stroke-width="0.7"/>
<rect x="389.30" y="289.27" width="2.40" height="4.93" fill="#f4f4f4" stroke="#d0d0d0" stroke-width="0.6"/>
<line x1="390.40" y1="289.27" x2="390.40" y2="288.64" stroke="#777" stroke-width="0.8" stroke-dasharray="1,0.5"/>
<rect x="391.50" y="289.59" width="2.20" height="4.61" fill="#000"/>
<line x1="392.60" y1="289.59" x2="392.60" y2="288.13" stroke="#3a3a3a" stroke-width="0.7"/>
<rect x="395.05" y="292.43" width="2.40" height="1.77" fill="#f4f4f4" stroke="#d0d0d0" stroke-width="0.6"/>
<line x1="396.15" y1="292.43" x2="396.15" y2="292.11" stroke="#777" stroke-width="0.8" stroke-dasharray="1,0.5"/>
<rect x="397.25" y="292.74" width="2.20" height="1.46" fill="#000"/>
<line x1="398.35" y1="292.74" x2="398.35" y2="291.42" stroke="#3a3a3a" stroke-width="0.7"/>
<rect x="401.05" y="292.43" width="2.40" height="1.77" fill="#f4f4f4" stroke="#d0d0d0" stroke-width="0.6"/>
<line x1="402.15" y1="292.43" x2="402.15" y2="292.11" stroke="#777" stroke-width="0.8" stroke-dasharray="1,0.5"/>
<rect x="403.25" y="293.06" width="2.20" height="1.14" fill="#000"/>
<line x1="404.35" y1="293.06" x2="404.35" y2="291.75" stroke="#3a3a3a" stroke-width="0.7"/>
<rect x="406.80" y="292.43" width="2.40" height="1.77" fill="#f4f4f4" stroke="#d0d0d0" stroke-width="0.6"/>
<line x1="407.90" y1="292.43" x2="407.90" y2="292.11" stroke="#777" stroke-width="0.8" stroke-dasharray="1,0.5"/>
<rect x="409.00" y="293.37" width="2.20" height="0.83" fill="#000"/>
<line x1="410.10" y1="293.37" x2="410.10" y2="292.08" stroke="#3a3a3a" stroke-width="0.7"/>
<line x1="433.9" y1="184.10" x2="433.9" y2="294.5" stroke="#ededed" stroke-width="1.0"/>
<line x1="433.9" y1="294.5" x2="516" y2="294.5" stroke="#cacaca" stroke-width="0.9"/>
<line x1="433.09999999999997" y1="294.50" x2="435.7" y2="294.50" stroke="#bdbdbd" stroke-width="0.8"/>
<line x1="433.09999999999997" y1="278.77" x2="435.7" y2="278.77" stroke="#bdbdbd" stroke-width="0.8"/>
<line x1="433.09999999999997" y1="263.04" x2="435.7" y2="263.04" stroke="#bdbdbd" stroke-width="0.8"/>
<line x1="433.09999999999997" y1="247.31" x2="435.7" y2="247.31" stroke="#bdbdbd" stroke-width="0.8"/>
<line x1="433.09999999999997" y1="231.59" x2="435.7" y2="231.59" stroke="#bdbdbd" stroke-width="0.8"/>
<line x1="433.09999999999997" y1="215.86" x2="435.7" y2="215.86" stroke="#bdbdbd" stroke-width="0.8"/>
<line x1="433.09999999999997" y1="200.13" x2="435.7" y2="200.13" stroke="#bdbdbd" stroke-width="0.8"/>
<line x1="433.09999999999997" y1="184.40" x2="435.7" y2="184.40" stroke="#bdbdbd" stroke-width="0.8"/>
<rect x="436.95" y="286.12" width="2.60" height="8.07" fill="#f4f4f4" stroke="#d0d0d0" stroke-width="0.6"/>
<line x1="438.15" y1="286.12" x2="438.15" y2="282.98" stroke="#777" stroke-width="0.8" stroke-dasharray="1,0.5"/>
<rect x="439.35" y="288.01" width="2.40" height="6.19" fill="#000"/>
<line x1="440.55" y1="288.01" x2="440.55" y2="284.87" stroke="#3a3a3a" stroke-width="0.7"/>
<rect x="443.70" y="281.40" width="2.60" height="12.80" fill="#f4f4f4" stroke="#d0d0d0" stroke-width="0.6"/>
<line x1="444.90" y1="281.40" x2="444.90" y2="276.67" stroke="#777" stroke-width="0.8" stroke-dasharray="1,0.5"/>
<rect x="446.10" y="286.75" width="2.40" height="7.44" fill="#000"/>
<line x1="447.30" y1="286.75" x2="447.30" y2="283.61" stroke="#3a3a3a" stroke-width="0.7"/>
<rect x="450.45" y="271.95" width="2.60" height="22.25" fill="#f4f4f4" stroke="#d0d0d0" stroke-width="0.6"/>
<line x1="451.65" y1="271.95" x2="451.65" y2="267.22" stroke="#777" stroke-width="0.8" stroke-dasharray="1,0.5"/>
<rect x="452.85" y="272.58" width="2.40" height="21.62" fill="#000"/>
<line x1="454.05" y1="272.58" x2="454.05" y2="269.43" stroke="#3a3a3a" stroke-width="0.7"/>
<rect x="456.95" y="279.82" width="2.60" height="14.38" fill="#f4f4f4" stroke="#d0d0d0" stroke-width="0.6"/>
<line x1="458.15" y1="279.82" x2="458.15" y2="275.10" stroke="#777" stroke-width="0.8" stroke-dasharray="1,0.5"/>
<rect x="459.35" y="284.87" width="2.40" height="9.33" fill="#000"/>
<line x1="460.55" y1="284.87" x2="460.55" y2="281.72" stroke="#3a3a3a" stroke-width="0.7"/>
<rect x="463.70" y="273.52" width="2.60" height="20.68" fill="#f4f4f4" stroke="#d0d0d0" stroke-width="0.6"/>
<line x1="464.90" y1="273.52" x2="464.90" y2="267.22" stroke="#777" stroke-width="0.8" stroke-dasharray="1,0.5"/>
<rect x="466.10" y="270.69" width="2.40" height="23.51" fill="#000"/>
<line x1="467.30" y1="270.69" x2="467.30" y2="264.39" stroke="#3a3a3a" stroke-width="0.7"/>
<rect x="470.20" y="231.00" width="2.60" height="63.20" fill="#f4f4f4" stroke="#d0d0d0" stroke-width="0.6"/>
<line x1="471.40" y1="231.00" x2="471.40" y2="221.55" stroke="#777" stroke-width="0.8" stroke-dasharray="1,0.5"/>
<rect x="472.60" y="213.05" width="2.40" height="81.15" fill="#000"/>
<line x1="473.80" y1="213.05" x2="473.80" y2="203.60" stroke="#3a3a3a" stroke-width="0.7"/>
<rect x="476.95" y="208.95" width="2.60" height="85.25" fill="#f4f4f4" stroke="#d0d0d0" stroke-width="0.6"/>
<line x1="478.15" y1="208.95" x2="478.15" y2="202.65" stroke="#777" stroke-width="0.8" stroke-dasharray="1,0.5"/>
<rect x="479.35" y="215.88" width="2.40" height="78.32" fill="#000"/>
<line x1="480.55" y1="215.88" x2="480.55" y2="211.16" stroke="#3a3a3a" stroke-width="0.7"/>
<rect x="483.70" y="278.25" width="2.60" height="15.95" fill="#f4f4f4" stroke="#d0d0d0" stroke-width="0.6"/>
<line x1="484.90" y1="278.25" x2="484.90" y2="271.95" stroke="#777" stroke-width="0.8" stroke-dasharray="1,0.5"/>
<rect x="486.10" y="266.28" width="2.40" height="27.92" fill="#000"/>
<line x1="487.30" y1="266.28" x2="487.30" y2="255.57" stroke="#3a3a3a" stroke-width="0.7"/>
<rect x="490.45" y="276.68" width="2.60" height="17.52" fill="#f4f4f4" stroke="#d0d0d0" stroke-width="0.6"/>
<line x1="491.65" y1="276.68" x2="491.65" y2="273.53" stroke="#777" stroke-width="0.8" stroke-dasharray="1,0.5"/>
<rect x="492.85" y="278.88" width="2.40" height="15.32" fill="#000"/>
<line x1="494.05" y1="278.88" x2="494.05" y2="274.15" stroke="#3a3a3a" stroke-width="0.7"/>
<rect x="497.20" y="287.70" width="2.60" height="6.50" fill="#f4f4f4" stroke="#d0d0d0" stroke-width="0.6"/>
<line x1="498.40" y1="287.70" x2="498.40" y2="281.40" stroke="#777" stroke-width="0.8" stroke-dasharray="1,0.5"/>
<rect x="499.60" y="284.87" width="2.40" height="9.33" fill="#000"/>
<line x1="500.80" y1="284.87" x2="500.80" y2="280.14" stroke="#3a3a3a" stroke-width="0.7"/>
<rect x="503.70" y="289.27" width="2.60" height="4.93" fill="#f4f4f4" stroke="#d0d0d0" stroke-width="0.6"/>
<line x1="504.90" y1="289.27" x2="504.90" y2="287.70" stroke="#777" stroke-width="0.8" stroke-dasharray="1,0.5"/>
<rect x="506.10" y="292.43" width="2.40" height="1.77" fill="#000"/>
<line x1="507.30" y1="292.43" x2="507.30" y2="290.85" stroke="#3a3a3a" stroke-width="0.7"/>
<rect x="510.45" y="290.85" width="2.60" height="3.35" fill="#f4f4f4" stroke="#d0d0d0" stroke-width="0.6"/>
<line x1="511.65" y1="290.85" x2="511.65" y2="289.28" stroke="#777" stroke-width="0.8" stroke-dasharray="1,0.5"/>
<rect x="512.85" y="291.17" width="2.40" height="3.03" fill="#000"/>
<line x1="514.05" y1="291.17" x2="514.05" y2="288.65" stroke="#3a3a3a" stroke-width="0.7"/>
<rect x="188.8" y="69.8" width="10.7" height="6.9" fill="#f2f2f2" stroke="#c4c4c4" stroke-width="0.9"/>
<rect x="188.4" y="85.5" width="11.6" height="7" fill="#000"/>
<text x="207.9" y="75.7" class="lg">Sx</text>
<text x="207.7" y="92.5" class="lg">Cx</text>
<text x="154.5" y="12.85" class="tt" letter-spacing="1.3">Vβ</text>
<text x="180.4" y="12.85" class="tt" textLength="15.05" lengthAdjust="spacing">10</text>
<text x="254.0" y="12.85" class="tt" letter-spacing="1.3">Vβ</text>
<text x="277.8" y="12.85" class="tt" textLength="20.3" lengthAdjust="spacing">8.3</text>
<text x="352.2" y="12.85" class="tt" letter-spacing="1.3">Vβ</text>
<text x="375.8" y="12.85" class="tt" textLength="19.6" lengthAdjust="spacing">8.1</text>
<text x="450.6" y="12.85" class="tt" letter-spacing="1.3">Vβ</text>
<text x="475.45" y="12.85" class="tt" textLength="20.2" lengthAdjust="spacing">2.0</text>
<text x="55.1" y="115.3" class="rl">Lym</text>
<text x="83.1" y="115.3" class="rl">ph</text>
<text x="57.1" y="131.7" class="rl">Nodes</text>
<text x="56.5" y="246.1" class="rl">Thym</text>
<text x="92.2" y="246.1" class="rl">us</text>
<text transform="translate(12.8,325.6) rotate(-90)" class="yl">%</text>
<text transform="translate(12.8,303.0) rotate(-90)" class="yl" textLength="33.2" lengthAdjust="spacing">TCR</text>
<text transform="translate(12.8,264.5) rotate(-90)" class="yl">Vβ</text>
<text transform="translate(12.8,238.9) rotate(-90)" class="yl">Frequency</text>
<rect x="9" y="70" width="3" height="84.8" fill="#000"/>
<polygon points="10.45,59.5 4.7,71 16,71" fill="#000"/>
<text x="236.1" y="333.6" class="xl">Relative</text>
<text x="312.4" y="333.6" class="xl">CDR3</text>
<text x="371.0" y="333.6" class="xl">Size</text>
<rect x="134" y="325.0" width="91.7" height="2.15" fill="#000"/>
<polygon points="124.5,326.3 136.7,320.7 136.7,332.1" fill="#000"/>
<rect x="422" y="325.0" width="86" height="2.15" fill="#000"/>
<polygon points="518.2,326.5 506.6,320.9 506.6,332.1" fill="#000"/>
</svg>
</body></html>
